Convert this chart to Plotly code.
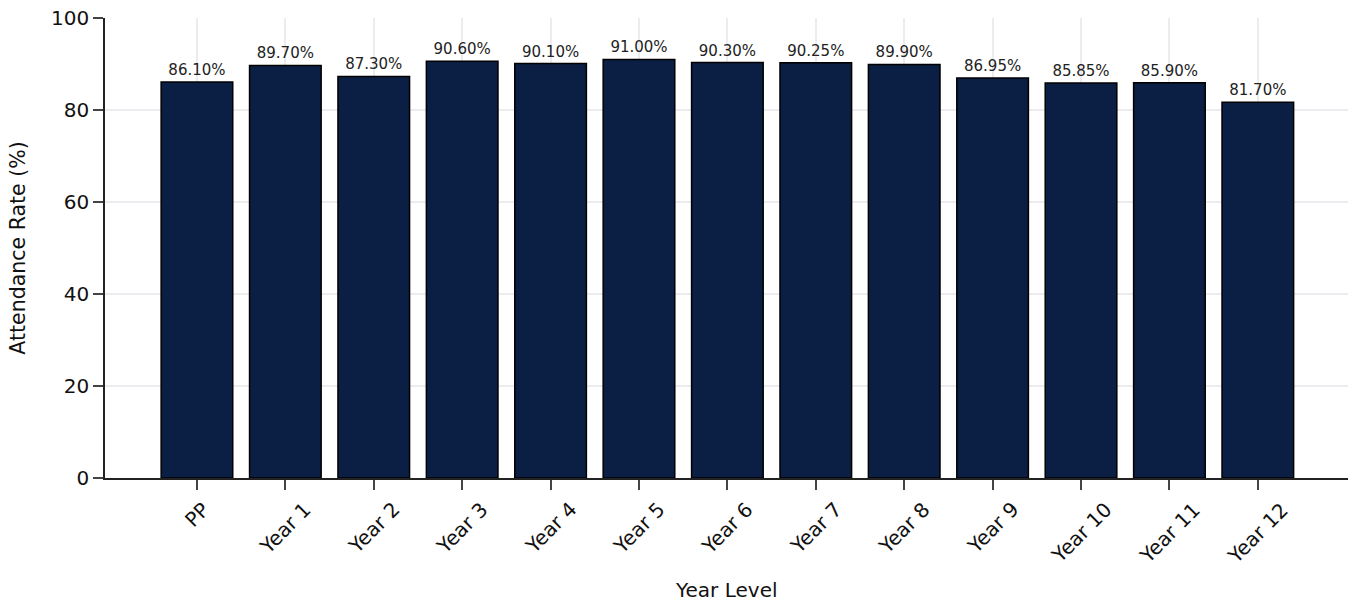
import plotly.graph_objects as go

categories = ["PP", "Year 1", "Year 2", "Year 3", "Year 4", "Year 5", "Year 6",
              "Year 7", "Year 8", "Year 9", "Year 10", "Year 11", "Year 12"]
attendance = [86.10, 89.70, 87.30, 90.60, 90.10, 91.00, 90.30,
              90.25, 89.90, 86.95, 85.85, 85.90, 81.70]
labels = [f"{v:.2f}%" for v in attendance]

FONT = "DejaVu Sans"
xpos = list(range(len(categories)))

fig = go.Figure(go.Bar(
    x=xpos,
    y=attendance,
    text=labels,
    textposition="outside",
    textfont=dict(family=FONT, size=15, color="#222222"),
    cliponaxis=False,
    marker=dict(color="#0b1f44", line=dict(color="#000000", width=1.5)),
    width=0.81,
))

# rotated category labels, centred under each tick
for xi, cat in zip(xpos, categories):
    fig.add_annotation(
        x=xi, y=0, xref="x", yref="y",
        text=cat, textangle=-45, showarrow=False,
        xanchor="center", yanchor="top", yshift=-17,
        font=dict(family=FONT, size=20, color="#111111"),
    )

fig.add_annotation(
    x=0.5, y=-0.2435, xref="paper", yref="paper",
    text="Year Level", showarrow=False,
    xanchor="center", yanchor="middle",
    font=dict(family=FONT, size=20, color="#111111"),
)

fig.update_layout(
    width=1348, height=602,
    margin=dict(l=105, r=0, t=18, b=124),
    plot_bgcolor="white", paper_bgcolor="white",
    font=dict(family=FONT, size=20, color="#111111"),
    showlegend=False,
)
fig.update_xaxes(
    tickmode="array",
    tickvals=xpos,
    showticklabels=False,
    range=[-1.04, 13.02],
    showline=True, linecolor="#222222", linewidth=1.5,
    ticks="outside", ticklen=10, tickwidth=1.5, tickcolor="#444444",
    showgrid=True, gridcolor="#ebebf0", gridwidth=1.5,
    zeroline=False,
)
fig.update_yaxes(
    range=[0, 100],
    tickvals=[0, 20, 40, 60, 80, 100],
    showline=True, linecolor="#222222", linewidth=1.5,
    ticks="outside", ticklen=10, tickwidth=1.5, tickcolor="#444444",
    showgrid=True, gridcolor="#ebebf0", gridwidth=1.5,
    tickfont=dict(size=20),
    title=dict(text="Attendance Rate (%)", font=dict(size=20.5), standoff=20),
    zeroline=False,
)

fig.write_html("out.html")
